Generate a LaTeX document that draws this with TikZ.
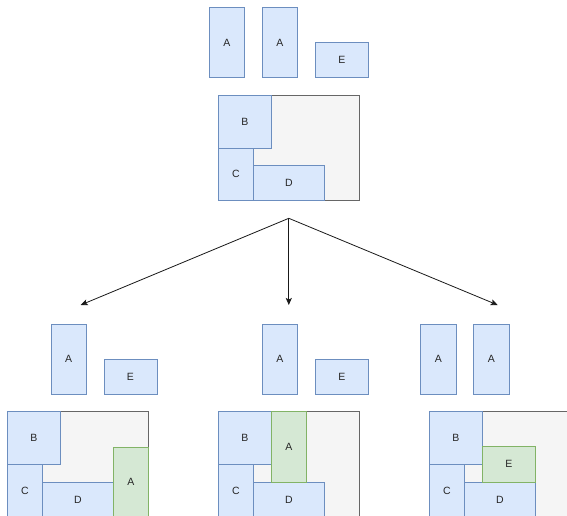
\documentclass[tikz,border=0pt]{standalone}
\usepackage{fontspec}
\setmainfont{Liberation Sans}
\usetikzlibrary{arrows.meta}
\definecolor{blueFill}{HTML}{DAE8FC}
\definecolor{blueLine}{HTML}{6C8EBF}
\definecolor{greenFill}{HTML}{D5E8D4}
\definecolor{greenLine}{HTML}{82B366}
\definecolor{binFill}{HTML}{F5F5F5}
\definecolor{binLine}{HTML}{666666}
\begin{document}
\begin{tikzpicture}[x=1pt,y=-1pt,
  box/.style={draw, line width=0.9pt, anchor=north west, inner sep=0pt, outer sep=0pt,
    font=\fontsize{10.5}{12}\selectfont, text=black!85},
  piece/.style={box, fill=blueFill, draw=blueLine},
  placed/.style={box, fill=greenFill, draw=greenLine},
  bin/.style={box, fill=binFill, draw=binLine, minimum width=141, minimum height=105.5},
  tall/.style={minimum width=35.3, minimum height=70.5},
  wide/.style={minimum width=53, minimum height=35.3},
  bsq/.style={minimum width=53, minimum height=52.7},
  ctall/.style={minimum width=35.3, minimum height=52.7},
  dwide/.style={minimum width=70.6, minimum height=35.3},
  branch/.style={draw=black!90, line width=0.8pt, -{Stealth[length=7pt,width=6pt,inset=1.5pt]}}]
\useasboundingbox (0,0) rectangle (567,516);
\clip (0,0) rectangle (567,516);

% initial state: pieces still to place and the partly filled bin
\node[piece, tall] (tA1) at (209.3,7.3) {A};
\node[piece, tall] (tA2) at (262.3,7.3) {A};
\node[piece, wide] (tE) at (315.3,42.3) {E};
\node[bin] (tbin) at (218.3,95.3) {};
\node[piece, bsq] (tB) at (218.3,95.3) {B};
\node[piece, ctall] (tC) at (218.3,148) {C};
\node[piece, dwide] (tD) at (253.6,165.3) {D};

% branching into three candidate placements
\coordinate (split) at (288.8,218.3);
\coordinate (goL) at (80.7,305);
\coordinate (goM) at (288.8,305);
\coordinate (goR) at (497.7,305);
\draw[branch] (split) -- (goL);
\draw[branch] (split) -- (goM);
\draw[branch] (split) -- (goR);

% left: A placed at the right wall
\node[piece, tall] (lA) at (51,324) {A};
\node[piece, wide] (lE) at (104,359.3) {E};
\node[bin] (lbin) at (7.3,411.7) {};
\node[piece, bsq] (lB) at (7.3,411.7) {B};
\node[piece, ctall] (lC) at (7.3,464.4) {C};
\node[piece, dwide] (lD) at (42.6,482) {D};
\node[placed, tall] (lP) at (113.2,447) {A};

% middle: A placed beside B
\node[piece, tall] (mA) at (262.3,324) {A};
\node[piece, wide] (mE) at (315.3,359.3) {E};
\node[bin] (mbin) at (218.3,411.7) {};
\node[piece, bsq] (mB) at (218.3,411.7) {B};
\node[piece, ctall] (mC) at (218.3,464.4) {C};
\node[piece, dwide] (mD) at (253.6,482) {D};
\node[placed, tall] (mP) at (271.3,411.7) {A};

% right: E placed on top of D
\node[piece, tall] (rA1) at (420.7,324) {A};
\node[piece, tall] (rA2) at (473.7,324) {A};
\node[bin] (rbin) at (429.3,411.7) {};
\node[piece, bsq] (rB) at (429.3,411.7) {B};
\node[piece, ctall] (rC) at (429.3,464.4) {C};
\node[piece, dwide] (rD) at (464.6,482) {D};
\node[placed, wide] (rP) at (482.3,446.7) {E};
\end{tikzpicture}
\end{document}
